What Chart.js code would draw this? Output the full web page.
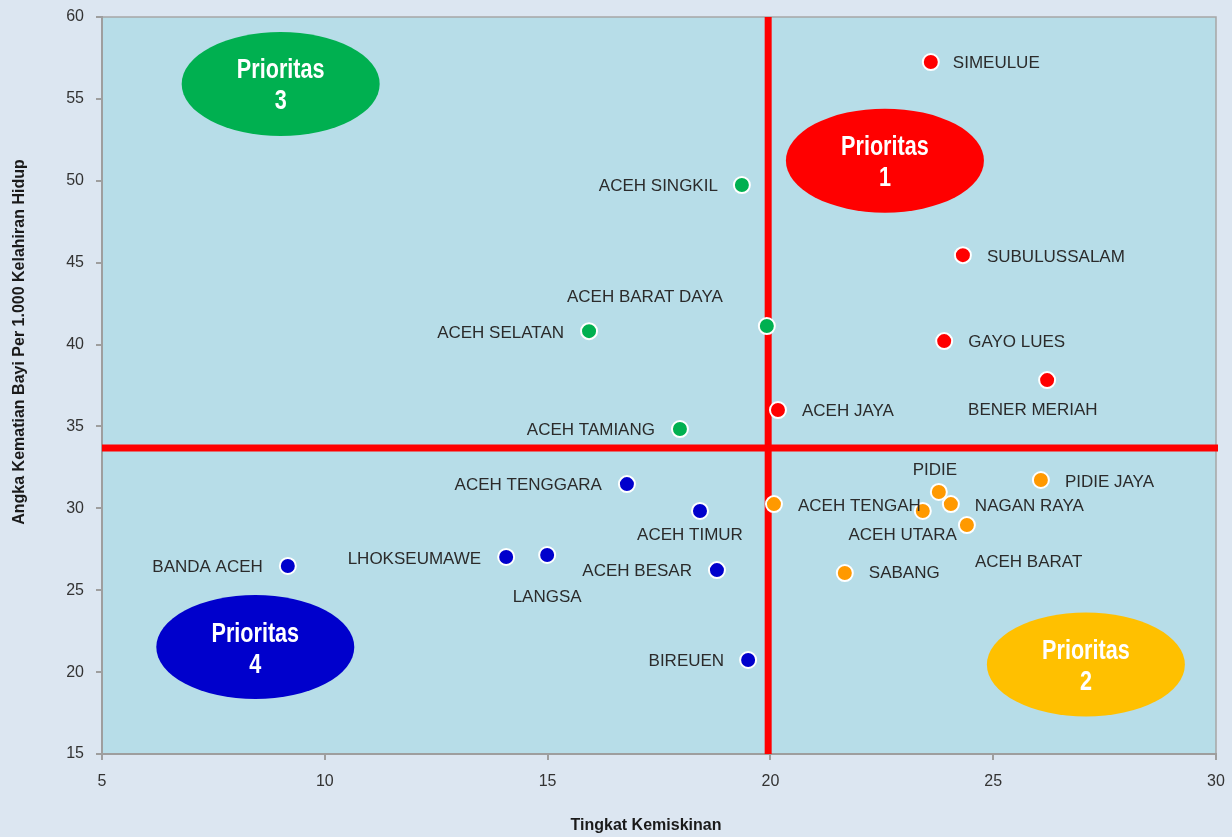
<!DOCTYPE html>
<html>
<head>
<meta charset="utf-8">
<script src="https://cdn.jsdelivr.net/npm/chart.js@4.4.1/dist/chart.umd.min.js"></script>
<style>
    html, body { margin: 0; padding: 0; background: #dce6f1; }
    #wrap { width: 1232px; height: 837px; }
</style>
</head>
<body>
<div id="wrap"><canvas id="chart" width="1232" height="837"></canvas></div>
<script>
// Tingkat Kemiskinan (x) vs Angka Kematian Bayi (y), per kabupaten/kota
const p1Names = ["SIMEULUE", "SUBULUSSALAM", "GAYO LUES", "BENER MERIAH", "ACEH JAYA"];
const p1X = [23.6, 24.32, 23.9, 26.21, 20.17];
const p1Y = [57.25, 45.46, 40.21, 37.83, 36.0];

const p2Names = ["PIDIE JAYA", "PIDIE", "NAGAN RAYA", "ACEH TENGAH", "ACEH UTARA", "ACEH BARAT", "SABANG"];
const p2X = [26.07, 23.78, 24.05, 20.08, 23.42, 24.41, 21.67];
const p2Y = [31.73, 31.0, 30.26, 30.26, 29.84, 28.98, 26.05];

const p3Names = ["ACEH SINGKIL", "ACEH BARAT DAYA", "ACEH SELATAN", "ACEH TAMIANG"];
const p3X = [19.36, 19.92, 15.93, 17.97];
const p3Y = [49.74, 41.13, 40.82, 34.84];

const p4Names = ["ACEH TENGGARA", "ACEH TIMUR", "LHOKSEUMAWE", "LANGSA", "ACEH BESAR", "BANDA ACEH", "BIREUEN"];
const p4X = [16.78, 18.42, 14.07, 14.99, 18.8, 9.17, 19.5];
const p4Y = [31.48, 29.84, 27.03, 27.15, 26.23, 26.48, 20.74];

const xTicks = [5, 10, 15, 20, 25, 30];
const yTicks = [15, 20, 25, 30, 35, 40, 45, 50, 55, 60];

// garis batas kuadran (rata-rata)
const povertyLine = 19.95;
const mortalityLine = 33.68;

// label placement: [dx, dy, align] in pixels relative to the point
const p1LabelPos = [[22, 1, "left"], [24, 2, "left"], [24, 1, "left"], [-79, 30, "left"], [24, 1, "left"]];
const p2LabelPos = [[24, 2, "left"], [-4, -22, "center"], [24, 2, "left"], [24, 2, "left"], [34, 24, "right"], [8, 37, "left"], [24, 0, "left"]];
const p3LabelPos = [[-24, 1, "right"], [-44, -29, "right"], [-25, 2, "right"], [-25, 1, "right"]];
const p4LabelPos = [[-25, 1, "right"], [-10, 24, "center"], [-25, 2, "right"], [0, 42, "center"], [-25, 1, "right"], [-25, 1, "right"], [-24, 1, "right"]];

const FONT = "'Liberation Sans', Arial, sans-serif";

const groups = [
    { label: "Prioritas 1", names: p1Names, xs: p1X, ys: p1Y, pos: p1LabelPos, color: "#ff0000" },
    { label: "Prioritas 2", names: p2Names, xs: p2X, ys: p2Y, pos: p2LabelPos, color: "#ff9900" },
    { label: "Prioritas 3", names: p3Names, xs: p3X, ys: p3Y, pos: p3LabelPos, color: "#00b050" },
    { label: "Prioritas 4", names: p4Names, xs: p4X, ys: p4Y, pos: p4LabelPos, color: "#0000cc" },
];

// the four "Prioritas" badges, centred in data units
const badges = [
    { num: "1", x: 22.57, y: 51.23, color: "#ff0000" },
    { num: "2", x: 27.08, y: 20.46, color: "#ffc000" },
    { num: "3", x: 9.01, y: 55.91, color: "#00b050" },
    { num: "4", x: 8.44, y: 21.53, color: "#0000cc" },
];

const quadrantPlugin = {
    id: "quadrants",
    beforeDraw(chart) {
        const { ctx, chartArea: a } = chart;
        ctx.save();
        ctx.fillStyle = "#dce6f1";
        ctx.fillRect(0, 0, chart.width, chart.height);
        ctx.fillStyle = "#b7dde8";
        ctx.fillRect(a.left, a.top, a.right - a.left, a.bottom - a.top);
        ctx.strokeStyle = "#a6a6a6";
        ctx.lineWidth = 1.5;
        ctx.strokeRect(a.left, a.top, a.right - a.left, a.bottom - a.top);
        ctx.restore();
    },
    beforeDatasetsDraw(chart) {
        const { ctx, chartArea: a, scales } = chart;
        ctx.save();
        // badges
        badges.forEach(b => {
            const cx = scales.x.getPixelForValue(b.x);
            const cy = scales.y.getPixelForValue(b.y);
            ctx.fillStyle = b.color;
            ctx.beginPath();
            ctx.ellipse(cx, cy, 99, 52, 0, 0, Math.PI * 2);
            ctx.fill();
            // condensed bold text like Arial Narrow
            ctx.save();
            ctx.translate(cx, cy);
            ctx.scale(0.8, 1);
            ctx.fillStyle = "#ffffff";
            ctx.font = "bold 27px " + FONT;
            ctx.textAlign = "center";
            ctx.textBaseline = "middle";
            ctx.fillText("Prioritas", 0, -13);
            ctx.fillText(b.num, 0, 18);
            ctx.restore();
        });
        // red quadrant lines
        const lx = scales.x.getPixelForValue(povertyLine);
        const ly = scales.y.getPixelForValue(mortalityLine);
        ctx.strokeStyle = "#ff0000";
        ctx.lineWidth = 7;
        ctx.beginPath();
        ctx.moveTo(a.left, ly);
        ctx.lineTo(a.right + 2, ly);
        ctx.moveTo(lx, a.top);
        ctx.lineTo(lx, a.bottom);
        ctx.stroke();
        ctx.restore();
    },
    afterDatasetsDraw(chart) {
        const { ctx } = chart;
        ctx.save();
        ctx.fillStyle = "#2b2b2b";
        ctx.font = "17px " + FONT;
        ctx.textBaseline = "middle";
        groups.forEach((g, i) => {
            const meta = chart.getDatasetMeta(i);
            meta.data.forEach((pt, j) => {
                const [dx, dy, align] = g.pos[j];
                ctx.textAlign = align;
                ctx.fillText(g.names[j], pt.x + dx, pt.y + dy);
            });
        });
        ctx.restore();
    },
    afterDraw(chart) {
        const { ctx } = chart;
        ctx.save();
        ctx.fillStyle = "#1a1a1a";
        ctx.font = "bold 16px " + FONT;
        ctx.textAlign = "center";
        ctx.textBaseline = "middle";
        ctx.fillText("Tingkat Kemiskinan", 646, 826);
        ctx.translate(20, 342);
        ctx.rotate(-Math.PI / 2);
        ctx.fillText("Angka Kematian Bayi Per 1.000 Kelahiran Hidup", 0, 0);
        ctx.restore();
    }
};

const ctx = document.getElementById("chart").getContext("2d");
const chart = new Chart(ctx, {
    type: "scatter",
    data: {
        datasets: groups.map(g => ({
            label: g.label,
            data: g.xs.map((x, k) => ({ x: x, y: g.ys[k] })),
            backgroundColor: g.color,
            borderColor: "#ffffff",
            borderWidth: 2,
            pointRadius: 8,
        })),
    },
    options: {
        responsive: false,
        animation: false,
        devicePixelRatio: 1,
        layout: { padding: { top: 17, right: 16, left: 0, bottom: 0 } },
        plugins: {
            legend: { display: false },
            tooltip: { enabled: false },
        },
        scales: {
            x: {
                type: "linear",
                min: xTicks[0],
                max: xTicks[xTicks.length - 1],
                afterBuildTicks: s => { s.ticks = xTicks.map(v => ({ value: v })); },
                ticks: { color: "#333333", font: { size: 16, family: FONT }, padding: 12, maxRotation: 0 },
                grid: { drawOnChartArea: false, drawTicks: true, tickLength: 6, color: "#9e9e9e", lineWidth: 2 },
                border: { color: "#9e9e9e", width: 2 },
                afterFit: s => { s.height = 83; s.paddingLeft = 0; s.paddingRight = 0; },
            },
            y: {
                type: "linear",
                min: yTicks[0],
                max: yTicks[yTicks.length - 1],
                afterBuildTicks: s => { s.ticks = yTicks.map(v => ({ value: v })); },
                ticks: { color: "#333333", font: { size: 16, family: FONT }, padding: 12 },
                grid: { drawOnChartArea: false, drawTicks: true, tickLength: 6, color: "#9e9e9e", lineWidth: 2 },
                border: { color: "#9e9e9e", width: 2 },
                afterFit: s => { s.width = 102; s.paddingTop = 0; s.paddingBottom = 0; },
            },
        },
    },
    plugins: [quadrantPlugin],
});
</script>
</body>
</html>
